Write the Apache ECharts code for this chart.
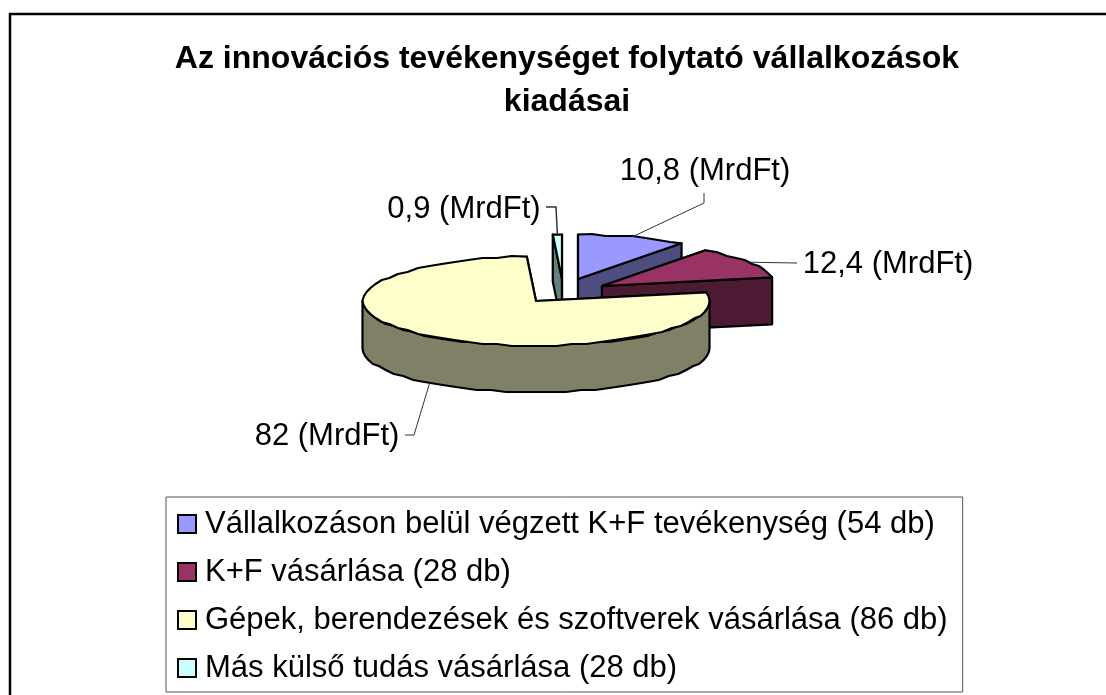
<!DOCTYPE html>
<html><head><meta charset="utf-8">
<style>html,body{margin:0;padding:0;background:#fff}#c{width:1106px;height:695px}</style>
<script src="https://cdn.jsdelivr.net/npm/echarts@6/dist/echarts.min.js"></script>
</head><body><div id="c"></div>
<script>
const categories = [
  'Vállalkozáson belül végzett K+F tevékenység (54 db)',
  'K+F vásárlása (28 db)',
  'Gépek, berendezések és szoftverek vásárlása (86 db)',
  'Más külső tudás vásárlása (28 db)'
];
const values = [10.8, 12.4, 82, 0.9];
const unit = 'MrdFt';
const titleText = 'Az innovációs tevékenységet folytató vállalkozások\nkiadásai';

// appearance
const topColors = ['#9999FF', '#993366', '#FFFFCC', '#CCFFFF'];
const sideColors = ['#4D4D80', '#4D1A33', '#808066', '#668080'];
const centre = [536, 301], rx = 173.5, ry = 44.5, depth = 47;
const explodeOffset = [[42, -22], [66, -15], [0, 0], [26, -22]];
const labelPos = [[705, 171], [888, 264], [327, 436], [464, 209]];
const leaderEnd = [[[704, 203], [704, 193]], [[797, 263]], [[414, 435], [405, 435]], [[556, 207], [546, 207]]];
const leaderWidth = [1, 1, 1, 1.5];
const drawOrder = [1, 2, 4, 0];
const stepDeg = 5, jagY = 2;

const total = values.reduce((a, b) => a + b, 0);
function angles(i) {
  let s = 0;
  for (let k = 0; k < i; k++) s += values[k];
  return [s / total * 360, (s + values[i]) / total * 360];
}
function pt(c, deg, dz) {
  const r = deg * Math.PI / 180;
  return [c[0] + rx * Math.sin(r), c[1] - ry * Math.cos(r) + (dz || 0)];
}
function arc(c, a0, a1, dz) {
  const out = [];
  const n = Math.max(1, Math.ceil((a1 - a0) / stepDeg));
  for (let j = 0; j <= n; j++) {
    const p = pt(c, a0 + (a1 - a0) * j / n, dz);
    // the source outline is a coarse, low resolution polygon
    if (j > 0 && j < n) p[1] = Math.round(p[1] / jagY) * jagY;
    out.push(p);
  }
  return out;
}
const edge = { stroke: '#000', lineWidth: 2.2, lineJoin: 'round' };
function poly(points, fill) {
  return { type: 'polygon', shape: { points }, style: Object.assign({ fill }, edge) };
}
function sliceItem(i) {
  return function () {
    const [a0, a1] = angles(i);
    const c = [centre[0] + explodeOffset[i][0], centre[1] + explodeOffset[i][1]];
    const side = sideColors[i], kids = [];
    const bottom = [c[0], c[1] + depth];
    [a0, a1].forEach(a => {
      const p = pt(c, a), q = pt(c, a, depth);
      kids.push(poly([c, p, q, bottom], side));
    });
    const f0 = Math.max(a0, 90), f1 = Math.min(a1, 270);
    if (f1 > f0) {
      const upper = arc(c, f0, f1, 0), lower = arc(c, f0, f1, depth).reverse();
      kids.push(poly(upper.concat(lower), side));
    }
    kids.push(poly([c].concat(arc(c, a0, a1, 0)), topColors[i]));

    // leader line and data label
    const mid = (a0 + a1) / 2;
    const onFront = mid > 90 && mid < 270;
    const anchor = pt(c, mid, onFront ? depth : 0);
    kids.push({
      type: 'polyline',
      shape: { points: [anchor].concat(leaderEnd[i]) },
      style: { fill: null, stroke: '#333', lineWidth: leaderWidth[i] }
    });
    kids.push({
      type: 'text',
      style: {
        x: labelPos[i][0], y: labelPos[i][1],
        text: String(values[i]).replace('.', ',') + ' (' + unit + ')',
        fill: '#000', font: '31px "Liberation Sans", Arial, sans-serif',
        align: 'center', verticalAlign: 'middle'
      }
    });
    return { type: 'group', children: kids };
  };
}

const chart = echarts.init(document.getElementById('c'), null, { renderer: 'canvas' });
chart.setOption({
  animation: false,
  backgroundColor: '#fff',
  title: {
    text: titleText, left: 562, top: 33, textAlign: 'center',
    textStyle: { fontFamily: '"Liberation Sans", Arial, sans-serif', fontSize: 32, fontWeight: 'bold', color: '#000', lineHeight: 43 }
  },
  legend: {
    orient: 'vertical', left: 166, top: 497, icon: 'rect',
    itemWidth: 18, itemHeight: 18, itemGap: 10,
    padding: [8, 15, 5, 11],
    borderColor: '#555', borderWidth: 1, backgroundColor: '#fff',
    selectedMode: false,
    textStyle: { fontFamily: '"Liberation Sans", Arial, sans-serif', fontSize: 31, color: '#000', padding: [4, 0, 0, 4], lineHeight: 34 },
    itemStyle: { borderColor: '#000', borderWidth: 2 },
    data: categories
  },
  graphic: [{
    type: 'polyline', z: -1, silent: true,
    shape: { points: [[10, 700], [10, 14], [1110, 14]] },
    style: { fill: null, stroke: '#000', lineWidth: 2.5 }
  }],
  xAxis: { show: false }, yAxis: { show: false },
  series: categories.map((name, i) => ({
    type: 'custom', name, coordinateSystem: 'none',
    z: drawOrder[i],
    itemStyle: { color: topColors[i] },
    data: [values[i]],
    renderItem: sliceItem(i)
  }))
});
</script></body></html>
